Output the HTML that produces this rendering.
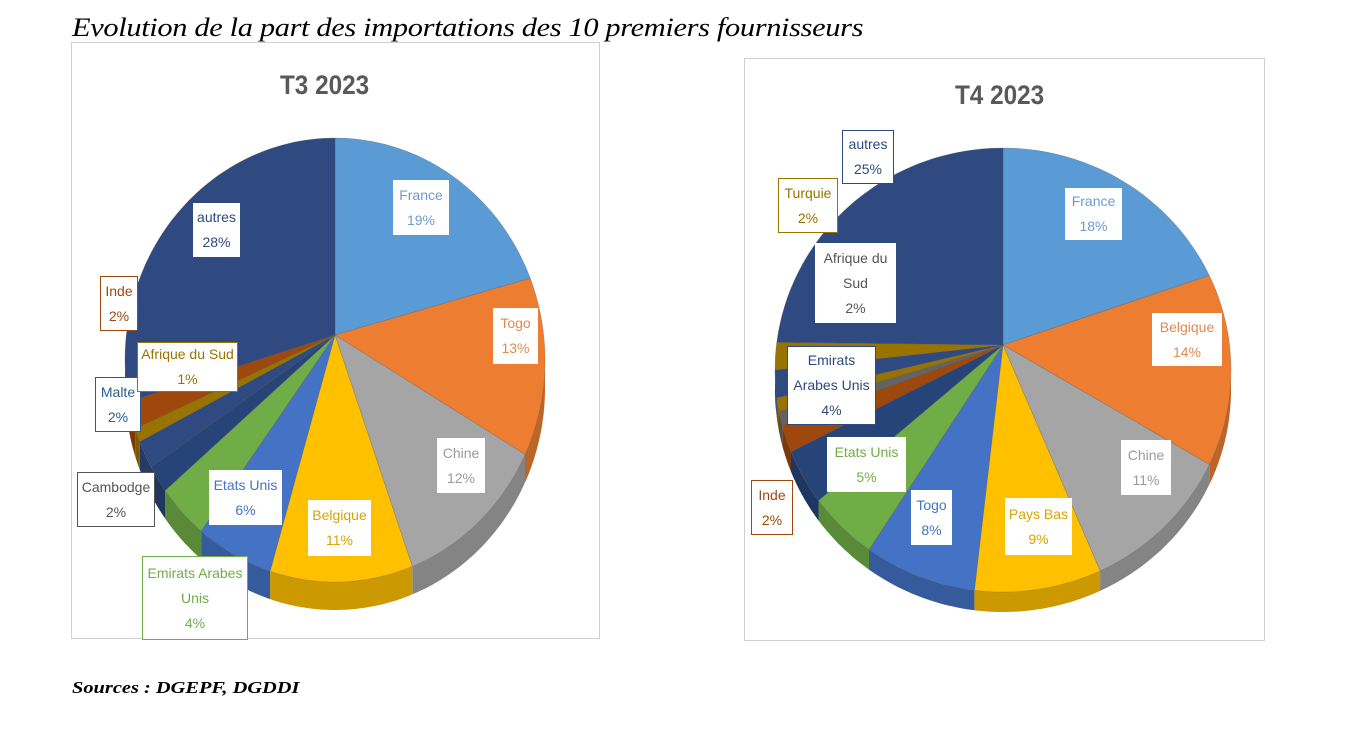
<!DOCTYPE html>
<html><head><meta charset="utf-8">
<style>
body{margin:0;background:#fff;width:1354px;height:744px;overflow:hidden;position:relative;font-family:"Liberation Sans",sans-serif}
.h{position:absolute;left:72px;top:13px;font-family:"Liberation Serif",serif;font-style:italic;font-size:26px;color:#000;transform:scaleX(1.17);transform-origin:left top;letter-spacing:-0.3px}
.s{position:absolute;left:72px;top:678px;font-family:"Liberation Serif",serif;font-style:italic;font-weight:bold;font-size:17px;transform:scaleX(1.2);transform-origin:left top}
.box{position:absolute;border:1px solid #d0d0d0}
.t{position:absolute;font-weight:bold;font-size:27px;color:#595959;transform:scaleX(0.9)}
.l{position:absolute;background:#fff;display:flex;align-items:center;justify-content:center;text-align:center;font-size:14px;line-height:25px;box-sizing:border-box}
svg{position:absolute;left:0;top:0}
</style></head><body>
<div class="h">Evolution de la part des importations des 10 premiers fournisseurs</div>
<div class="box" style="left:71px;top:42px;width:527px;height:595px"></div>
<div class="box" style="left:744px;top:58px;width:519px;height:581px"></div>
<svg id="sv" width="1354" height="744"></svg>
<div class="t" style="left:275px;top:70px">T3 2023</div>
<div class="t" style="left:950px;top:80px">T4 2023</div>
<div id="labels"></div>
<div class="s">Sources : DGEPF, DGDDI</div>
<script>
const C={fr:'#5b9bd5',or:'#ed7d31',gr:'#a5a5a5',go:'#ffc000',bl:'#4472c4',gn:'#70ad47',nv:'#264478',br:'#9e480e',dg:'#636363',ol:'#997300',au:'#2e4a80'};
function dark(h,f){let n=parseInt(h.slice(1),16);let r=(n>>16)*f,g=((n>>8)&255)*f,b=(n&255)*f;return `rgb(${r|0},${g|0},${b|0})`}
let out='';
function pie(ax,ay,ex,ey,rx,ry,d,sl){
  const P=t=>[ex+rx*Math.sin(t),ey-ry*Math.cos(t)];
  let a=0,segs=[];
  for(const [p,c] of sl){const a0=a*2*Math.PI/100,a1=(a+p)*2*Math.PI/100;segs.push([a0,a1,c]);a+=p;}
  for(const [a0,a1,c] of segs){
    let s=Math.max(a0,Math.PI/2),e=Math.min(a1,3*Math.PI/2);
    if(e>s){let pts=[];for(let i=0;i<=30;i++){pts.push(P(s+(e-s)*i/30));}
      let bot=pts.slice().reverse().map(p=>[p[0],p[1]+d]);
      out+=`<path d="M${pts.concat(bot).map(p=>p[0].toFixed(1)+','+p[1].toFixed(1)).join('L')}Z" fill="${dark(c,0.8)}"/>`;}
  }
  for(const [a0,a1,c] of segs){
    let pts=[[ax,ay]];let n=Math.max(2,Math.ceil((a1-a0)*40));
    for(let i=0;i<=n;i++)pts.push(P(a0+(a1-a0)*i/n));
    out+=`<path d="M${pts.map(p=>p[0].toFixed(1)+','+p[1].toFixed(1)).join('L')}Z" fill="${c}" stroke="rgba(80,80,80,0.4)" stroke-width="0.6"/>`;
  }
}
pie(335,335,335,360,210,222,28,[[19,C.fr],[13,C.or],[12,C.gr],[11,C.go],[6,C.bl],[4,C.gn],[2,C.nv],[2,C.au],[1,C.ol],[2,C.br],[28,C.au]]);
pie(1003,345,1003,370,228,222,20,[[18,C.fr],[14,C.or],[11,C.gr],[9,C.go],[8,C.bl],[5,C.gn],[4,C.nv],[2,C.br],[1,C.dg],[1,C.ol],[2,C.au],[2,C.ol],[23,C.au]]);
document.getElementById('sv').innerHTML=out;
const L=[
[393,180,56,55,'France<br>19%','#6d9ccf',0],[493,308,45,56,'Togo<br>13%','#e08a4c',0],[437,438,48,55,'Chine<br>12%','#9a9a9a',0],
[308,500,63,56,'Belgique<br>11%','#d9a400',0],[209,470,73,55,'Etats Unis<br>6%','#4472c4',0],[142,556,106,84,'Emirats Arabes<br>Unis<br>4%','#70ad47',1],
[77,472,78,55,'Cambodge<br>2%','#555',1],[95,377,46,55,'Malte<br>2%','#2e5c8a',1],[137,342,101,50,'Afrique du Sud<br>1%','#997300',1],
[100,276,38,55,'Inde<br>2%','#9e480e',1],[193,203,47,54,'autres<br>28%','#2e4a80',0],
[842,130,52,54,'autres<br>25%','#2e4a80',1],[778,178,60,55,'Turquie<br>2%','#997300',1],[815,243,81,80,'Afrique du<br>Sud<br>2%','#555',0],
[1065,188,57,52,'France<br>18%','#6d9ccf',0],[1152,313,70,53,'Belgique<br>14%','#e08a4c',0],[1121,440,50,55,'Chine<br>11%','#9a9a9a',0],
[1005,498,67,57,'Pays Bas<br>9%','#d9a400',0],[911,490,41,55,'Togo<br>8%','#4472c4',0],[827,437,79,55,'Etats Unis<br>5%','#70ad47',0],
[787,346,89,79,'Emirats<br>Arabes Unis<br>4%','#2e4a80',1],[751,480,42,55,'Inde<br>2%','#9e480e',1]];
document.getElementById('labels').innerHTML=L.map(l=>`<div class="l" style="left:${l[0]}px;top:${l[1]}px;width:${l[2]}px;height:${l[3]}px;color:${l[5]};border:1px solid ${l[6]?l[5]:'#fff'}">${l[4]}</div>`).join('');
</script>
</body></html>
